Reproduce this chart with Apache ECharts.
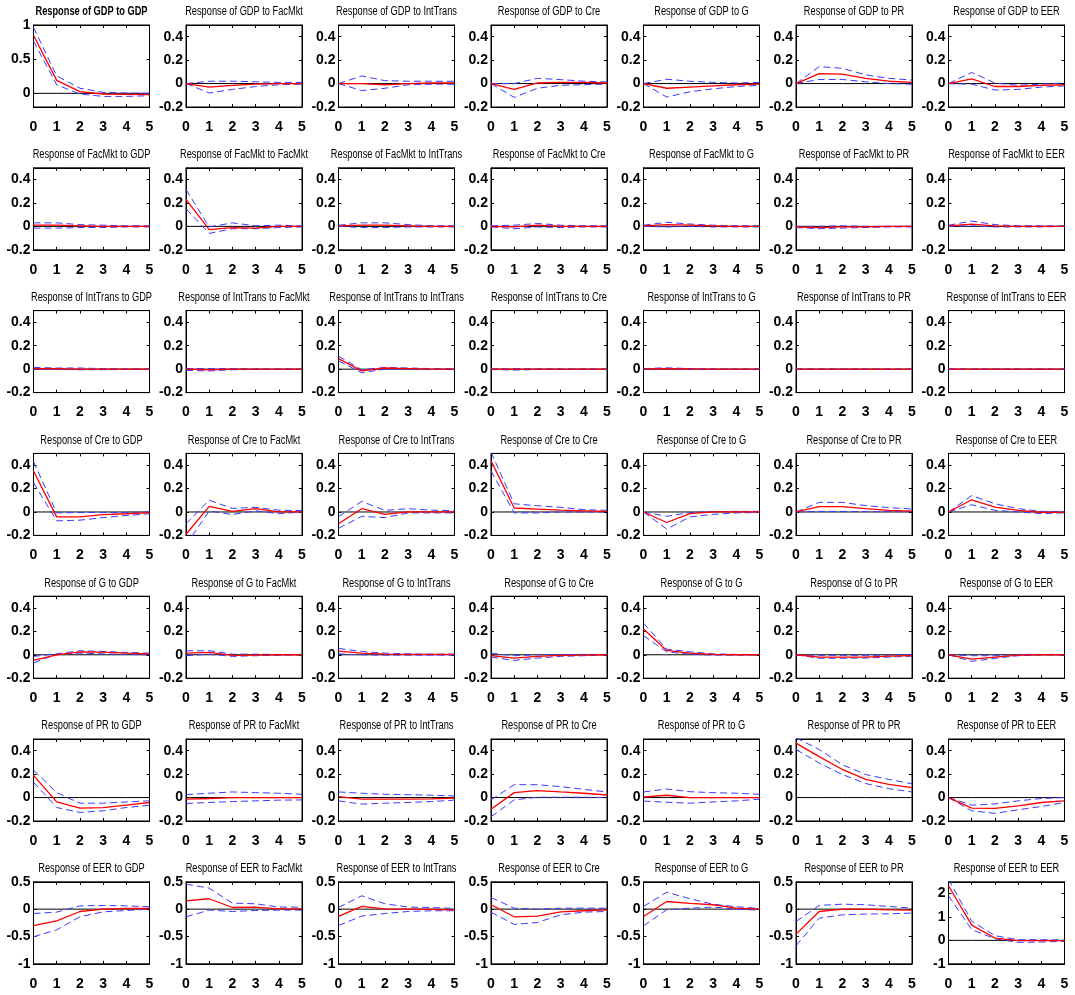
<!DOCTYPE html>
<html><head><meta charset="utf-8">
<script src="https://cdn.jsdelivr.net/npm/echarts@6/dist/echarts.min.js"></script>
<style>html,body{margin:0;padding:0;background:#fff}#c{width:1075px;height:995px}</style>
</head><body><div id="c"></div>
<script>
const variables = ['GDP','FacMkt','IntTrans','Cre','G','PR','EER'];
const horizons = [0,1,2,3,4,5];
const xTicks = [0,1,2,3,4,5];

// Response of GDP to each shock (columns in order of `variables`)
const GDP_mid = [[0.85,0.19,0.025,-0.01,-0.015,-0.02],[0,-0.03,-0.015,-0.005,0,0],[0,0,-0.01,0,0.005,0.005],[0,-0.05,0.005,0.01,0.01,0.005],[0,-0.04,-0.03,-0.02,-0.01,-0.005],[0,0.085,0.08,0.045,0.02,0.01],[0,0.04,-0.025,-0.025,-0.015,-0.01]];
const GDP_hi  = [[0.965,0.255,0.075,0.015,0.005,0],[0,0.02,0.02,0.015,0.01,0.01],[0,0.065,0.025,0.02,0.02,0.02],[0,0,0.045,0.034,0.02,0.014],[0,0.037,0.02,0.01,0.005,0.01],[0,0.145,0.13,0.075,0.045,0.03],[0,0.095,0.005,-0.015,-0.005,0.005]];
const GDP_lo  = [[0.765,0.125,-0.01,-0.045,-0.045,-0.035],[0,-0.08,-0.05,-0.025,-0.01,-0.005],[0,-0.06,-0.04,-0.01,-0.005,-0.005],[0,-0.118,-0.04,-0.015,-0.01,-0.005],[0,-0.115,-0.07,-0.045,-0.025,-0.015],[0,0.035,0.035,0.015,0,-0.005],[0,-0.005,-0.055,-0.05,-0.03,-0.02]];

const FacMkt_mid = [[0.01,0.01,0.005,0,0,0],[0.23,-0.028,-0.01,-0.015,0,0],[0.005,0.01,0.01,0.005,0,0],[0,-0.005,0.01,0,0,0],[0.005,0.015,0.01,0.005,0,0],[-0.005,-0.01,-0.005,-0.005,0,0],[0.005,0.02,0.005,0,0,0]];
const FacMkt_hi  = [[0.03,0.03,0.015,0.01,0.005,0.005],[0.315,-0.005,0.03,0.005,0.01,0.005],[0.01,0.03,0.03,0.015,0.005,0.005],[0.005,0.01,0.025,0.01,0.005,0.005],[0.01,0.035,0.02,0.01,0.005,0.005],[0,0,0.005,0,0,0],[0.01,0.045,0.015,0.005,0.005,0.005]];
const FacMkt_lo  = [[-0.015,-0.015,-0.01,-0.01,-0.005,-0.005],[0.15,-0.06,-0.02,-0.02,-0.01,-0.005],[0,-0.01,-0.01,-0.005,-0.005,-0.005],[-0.005,-0.02,-0.005,-0.01,-0.005,-0.005],[0,-0.005,0,-0.005,-0.005,-0.005],[-0.01,-0.02,-0.015,-0.01,-0.005,-0.005],[0,0.005,-0.005,-0.005,-0.005,0]];

const IntTrans_mid = [[0.005,0.005,0,0,0,0],[0,-0.005,0,0,0,0],[0.09,-0.015,0.01,0.005,0,0],[0,0,0,0,0,0],[0.002,0.005,0.002,0,0,0],[0,0,0,0,0,0],[0,0,0,0,0,0]];
const IntTrans_hi  = [[0.015,0.01,0.01,0.005,0.002,0.002],[0.005,0.005,0.005,0.002,0.002,0.002],[0.11,-0.005,0.015,0.01,0.005,0.005],[0.003,0.005,0.003,0.002,0.002,0.002],[0.005,0.012,0.005,0.003,0.002,0.002],[0.003,0.003,0.002,0.002,0.002,0.002],[0.003,0.003,0.002,0.002,0.002,0.002]];
const IntTrans_lo  = [[0,0,-0.005,-0.005,-0.002,-0.002],[-0.01,-0.015,-0.005,-0.002,-0.002,-0.002],[0.07,-0.03,0,0,-0.002,-0.002],[-0.003,-0.008,-0.003,-0.002,-0.002,-0.002],[-0.002,-0.002,-0.002,-0.002,-0.002,-0.002],[-0.003,-0.003,-0.002,-0.002,-0.002,-0.002],[-0.003,-0.003,-0.002,-0.002,-0.002,-0.002]];

const Cre_mid = [[0.35,-0.042,-0.042,-0.023,-0.015,-0.006],[-0.19,0.048,0.005,0.028,0,0],[-0.1,0.028,-0.02,0,0,0],[0.437,0.034,0.025,0.015,0.01,0.005],[0,-0.09,-0.014,0,0,0],[0,0.045,0.045,0.028,0.014,0.008],[0,0.104,0.042,0.014,-0.003,-0.003]];
const Cre_hi  = [[0.43,-0.008,-0.005,-0.005,-0.005,0],[-0.1,0.1,0.03,0.04,0.015,0.012],[-0.04,0.09,0.014,0.028,0.015,0.012],[0.51,0.07,0.053,0.04,0.02,0.014],[0,-0.037,-0.005,0.003,0.005,0.005],[0,0.082,0.082,0.054,0.037,0.025],[0,0.14,0.07,0.028,0.005,0.003]];
const Cre_lo  = [[0.25,-0.076,-0.07,-0.048,-0.03,-0.015],[-0.28,0.008,-0.022,0.01,-0.015,0],[-0.14,-0.037,-0.048,-0.008,-0.008,-0.008],[0.35,-0.008,-0.008,0,0,0],[0,-0.146,-0.042,-0.02,-0.008,-0.004],[0,0.005,0.005,0.003,0.003,0.003],[0,0.062,0.014,0,-0.014,-0.008]];

const G_mid = [[-0.048,0,0.025,0.022,0.014,0.008],[0.014,0.02,-0.005,-0.003,0,0],[0.031,0.014,0.005,0.003,0.003,0.003],[-0.008,-0.028,-0.014,-0.005,-0.003,0],[0.22,0.037,0.014,0.003,0,0],[0,-0.02,-0.02,-0.02,-0.011,-0.008],[0,-0.037,-0.02,-0.003,0,0]];
const G_hi  = [[-0.014,0.008,0.034,0.028,0.02,0.014],[0.034,0.034,0.005,0.005,0.003,0.003],[0.054,0.028,0.014,0.008,0.005,0.005],[0.014,-0.008,0,0,0.003,0.003],[0.27,0.048,0.025,0.008,0.003,0.003],[0,-0.005,-0.005,-0.005,-0.003,0],[0,-0.008,-0.008,0.003,0.003,0.003]];
const G_lo  = [[-0.07,0.005,0.014,0.008,0.003,0],[-0.008,0.005,-0.014,-0.008,-0.005,-0.003],[0.008,0,-0.003,-0.003,-0.003,-0.003],[-0.02,-0.048,-0.028,-0.014,-0.008,-0.003],[0.163,0.025,0.005,-0.003,-0.003,-0.003],[0,-0.03,-0.03,-0.028,-0.02,-0.012],[0,-0.056,-0.03,-0.008,-0.003,-0.003]];

const PR_mid = [[0.19,-0.037,-0.09,-0.085,-0.065,-0.042],[-0.014,-0.008,0,0,0,0],[0.008,-0.014,-0.014,-0.014,-0.011,-0.005],[-0.1,0.042,0.06,0.048,0.037,0.022],[0.005,0.02,0,0,0,0],[0.465,0.35,0.24,0.155,0.113,0.085],[0,-0.09,-0.093,-0.07,-0.042,-0.028]];
const PR_hi  = [[0.234,0.042,-0.048,-0.048,-0.037,-0.028],[0.025,0.037,0.048,0.042,0.037,0.028],[0.048,0.037,0.028,0.025,0.02,0.014],[-0.02,0.11,0.11,0.093,0.07,0.048],[0.048,0.073,0.05,0.042,0.037,0.028],[0.51,0.41,0.28,0.197,0.155,0.118],[0,-0.065,-0.054,-0.028,-0.008,0]];
const PR_lo  = [[0.132,-0.085,-0.127,-0.113,-0.085,-0.065],[-0.05,-0.042,-0.034,-0.028,-0.022,-0.02],[-0.028,-0.056,-0.048,-0.042,-0.034,-0.022],[-0.163,-0.02,0.003,0.003,0.003,0],[-0.03,-0.04,-0.048,-0.037,-0.028,-0.014],[0.41,0.295,0.197,0.12,0.076,0.048],[0,-0.113,-0.135,-0.104,-0.076,-0.042]];

const EER_mid = [[-0.3,-0.213,-0.043,0,0.012,0.012],[0.152,0.19,0.03,0.037,0.006,0.006],[-0.134,0.049,0.006,0,-0.006,-0.012],[0.08,-0.14,-0.128,-0.05,-0.03,-0.012],[-0.134,0.14,0.104,0.08,0.018,0],[-0.457,-0.043,0,0,-0.012,-0.018],[2.33,0.65,0.1,-0.014,-0.014,-0.014]];
const EER_hi  = [[-0.08,-0.055,0.06,0.067,0.06,0.043],[0.457,0.384,0.11,0.098,0.037,0.037],[0.03,0.244,0.098,0.037,0.03,0.012],[0.213,0.018,0,0.018,0.018,0.018],[0.049,0.31,0.19,0.09,0.043,0.012],[-0.226,0.067,0.091,0.08,0.049,0.018],[2.6,0.82,0.2,0.03,0.03,0.01]];
const EER_lo  = [[-0.506,-0.378,-0.14,-0.05,-0.025,0],[-0.14,-0.018,-0.043,-0.025,-0.018,-0.018],[-0.3,-0.128,-0.08,-0.043,-0.03,-0.03],[-0.055,-0.28,-0.244,-0.104,-0.055,-0.043],[-0.305,-0.012,0.018,0.037,0,-0.018],[-0.67,-0.165,-0.104,-0.09,-0.085,-0.073],[1.9,0.46,0.07,-0.086,-0.07,-0.04]];

// Axis ranges and tick labels
const rangeDefault = [-0.2, 0.5], ticksDefault = [-0.2, 0, 0.2, 0.4];
const rangeGDPGDP = [-0.2, 1], ticksGDPGDP = [0, 0.5, 1];
const rangeEER = [-1, 0.5], ticksEER = [-1, -0.5, 0, 0.5];
const rangeEEREER = [-1, 2.5], ticksEEREER = [-1, 0, 1, 2];

const MID = [GDP_mid, FacMkt_mid, IntTrans_mid, Cre_mid, G_mid, PR_mid, EER_mid];
const HI  = [GDP_hi, FacMkt_hi, IntTrans_hi, Cre_hi, G_hi, PR_hi, EER_hi];
const LO  = [GDP_lo, FacMkt_lo, IntTrans_lo, Cre_lo, G_lo, PR_lo, EER_lo];

const FONT = '"Liberation Sans",Arial,sans-serif';
const chart = echarts.init(document.getElementById('c'), null, {renderer:'canvas'});
const grids = [], xAxes = [], yAxes = [], series = [], graphics = [];
const L0 = 33.5, DX = 152.5, T0 = 25, DY = 142.8, W = 116, H = 82;

function pairs(arr){ return horizons.map((h,i)=>[h, arr[i]]); }

for (let r = 0; r < 7; r++) {
  for (let c = 0; c < 7; c++) {
    const gi = r*7 + c;
    const left = L0 + DX*c, top = T0 + DY*r;
    grids.push({left, top, width: W, height: H, show: true, borderColor: '#000', borderWidth: 1, backgroundColor: '#fff'});
    let range = rangeDefault, ticks = ticksDefault;
    if (r === 0 && c === 0) { range = rangeGDPGDP; ticks = ticksGDPGDP; }
    else if (r === 6 && c === 6) { range = rangeEEREER; ticks = ticksEEREER; }
    else if (r === 6) { range = rangeEER; ticks = ticksEER; }
    const axLine = {show: true, onZero: false, lineStyle: {color: '#000', width: 1}};
    xAxes.push({gridIndex: gi, type: 'value', min: 0, max: 5, position: 'bottom',
      axisLine: axLine, splitLine: {show: false},
      axisTick: {show: true, inside: true, length: 3, customValues: xTicks, lineStyle: {color: '#000'}},
      axisLabel: {show: true, customValues: xTicks, margin: 13, color: '#000', fontSize: 14, fontWeight: 'bold', fontFamily: FONT}});
    xAxes.push({gridIndex: gi, type: 'value', min: 0, max: 5, position: 'top',
      axisLine: axLine, splitLine: {show: false},
      axisTick: {show: true, inside: true, length: 3, customValues: xTicks, lineStyle: {color: '#000'}},
      axisLabel: {show: false}});
    yAxes.push({gridIndex: gi, type: 'value', min: range[0], max: range[1], position: 'left',
      axisLine: axLine, splitLine: {show: false},
      axisTick: {show: true, inside: true, length: 3, customValues: ticks, lineStyle: {color: '#000'}},
      axisLabel: {show: true, customValues: ticks, margin: 3, color: '#000', fontSize: 14, fontWeight: 'bold', fontFamily: FONT}});
    yAxes.push({gridIndex: gi, type: 'value', min: range[0], max: range[1], position: 'right',
      axisLine: axLine, splitLine: {show: false},
      axisTick: {show: true, inside: true, length: 3, customValues: ticks, lineStyle: {color: '#000'}},
      axisLabel: {show: false}});
    const xi = gi*2, yi = gi*2;
    series.push({type: 'line', xAxisIndex: xi, yAxisIndex: yi, data: pairs(horizons.map(()=>0)),
      symbol: 'none', silent: true, z: 1, lineStyle: {color: '#000', width: 1}});
    series.push({type: 'line', xAxisIndex: xi, yAxisIndex: yi, data: pairs(LO[r][c]),
      symbol: 'none', silent: true, z: 2, lineStyle: {color: '#3a3aff', width: 1, type: [7, 4]}});
    series.push({type: 'line', xAxisIndex: xi, yAxisIndex: yi, data: pairs(HI[r][c]),
      symbol: 'none', silent: true, z: 2, lineStyle: {color: '#3a3aff', width: 1, type: [7, 4]}});
    series.push({type: 'line', xAxisIndex: xi, yAxisIndex: yi, data: pairs(MID[r][c]),
      symbol: 'none', silent: true, z: 3, lineStyle: {color: '#ff0000', width: 1.3}});
    graphics.push({type: 'text', x: left + W/2, y: top - 13, scaleX: 0.74, silent: true,
      style: {text: 'Response of ' + variables[r] + ' to ' + variables[c],
        fontSize: 12.5, fontFamily: FONT, fontWeight: (r===0 && c===0) ? 'bold' : 'normal',
        fill: '#000', align: 'center', verticalAlign: 'middle'}});
  }
}

chart.setOption({animation: false, backgroundColor: '#fff', grid: grids, xAxis: xAxes, yAxis: yAxes, series, graphic: graphics});
</script>
</body></html>
